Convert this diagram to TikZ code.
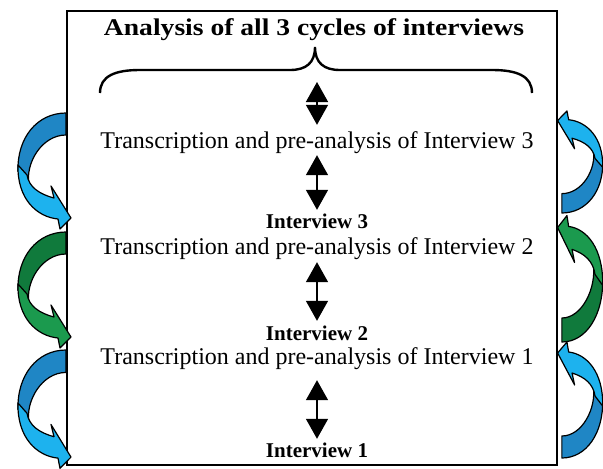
\documentclass[tikz,border=0pt]{standalone}
\usepackage{fontspec}
\setmainfont{Liberation Serif}
\usetikzlibrary{arrows.meta}
\definecolor{bluedk}{HTML}{1F86C5}
\definecolor{bluelt}{HTML}{1DB2EE}
\definecolor{greendk}{HTML}{107A3C}
\definecolor{greenlt}{HTML}{1B9A4E}
\newcommand\curvarr[2]{%
  \filldraw[fill=#1, draw=black, line width=1.2pt, line join=round]
    (-1,0) .. controls (-30,0) and (-50,25) .. (-49,58) -- (-38,72)
    .. controls (-42,50) and (-25,22) .. (-1,22) -- cycle;
  \filldraw[fill=#2, draw=black, line width=1.2pt, line join=round]
    (-49,52) .. controls (-50,86) and (-30,104) .. (-9,106) -- (-7,116) -- (4,105)
    -- (-16,73) -- (-13,85) .. controls (-28,81) and (-38,74) .. (-40,62) -- cycle;
}
\begin{document}
\begin{tikzpicture}[x=1pt,y=-1pt,
  txt/.style={font=\fontsize{24}{28}\selectfont, inner sep=0pt, text height=17pt, text depth=5pt, anchor=base},
  lbl/.style={font=\fontsize{21}{24}\selectfont\bfseries, inner sep=0pt, text height=15pt, text depth=0pt, anchor=base},
  ttl/.style={font=\fontsize{24}{28}\selectfont\bfseries, inner sep=0pt, anchor=base},
  dblarrow/.style={line width=1.5pt, {Triangle[length=20pt,width=22pt]}-{Triangle[length=20pt,width=22pt]}}]
\useasboundingbox (0,0) rectangle (603,469);
\fill[white] (0,0) rectangle (603,469);
% frame
\node[draw, line width=1.5pt, minimum width=490pt, minimum height=454pt, inner sep=0pt, outer sep=0pt] (frame) at (312,238) {};
% left curved arrows
\begin{scope}[shift={(67,113)}] \curvarr{bluedk}{bluelt} \end{scope}
\begin{scope}[shift={(67,232)}] \curvarr{greendk}{greenlt} \end{scope}
\begin{scope}[shift={(67,350)},yscale=1.02] \curvarr{bluedk}{bluelt} \end{scope}
% right curved arrows
\begin{scope}[shift={(561,213)},rotate=180,xscale=0.85,yscale=0.88] \curvarr{bluedk}{bluelt} \end{scope}
\begin{scope}[shift={(561,342)},rotate=180,xscale=0.85,yscale=1.09] \curvarr{greendk}{greenlt} \end{scope}
\begin{scope}[shift={(561,458)},rotate=180,xscale=0.85,yscale=1.0] \curvarr{bluedk}{bluelt} \end{scope}
% title
\node[ttl] (title) at (314,35) {\scalebox{1.15}[1]{Analysis of all 3 cycles of interviews}};
% brace
\draw[line width=2.4pt] (100,93) .. controls (100,76) and (115,70) .. (140,70) -- (290,70)
  .. controls (306,70) and (315,63) .. (315,47) .. controls (315,63) and (324,70) .. (340,70)
  -- (492,70) .. controls (517,70) and (532,76) .. (532,93);
\coordinate (bracetip) at (317,82);
% texts
\node[txt] (t3) at (317,148) {Transcription and pre-analysis of Interview 3};
\node[lbl] (i3) at (317,228) {Interview 3};
\node[txt] (t2) at (317,254) {Transcription and pre-analysis of Interview 2};
\node[lbl] (i2) at (317,340) {Interview 2};
\node[txt] (t1) at (317,364) {Transcription and pre-analysis of Interview 1};
\node[lbl] (i1) at (317,457) {Interview 1};
% double arrows
\draw[dblarrow, shorten >=6pt] (bracetip) -- (t3.north);
\draw[dblarrow, shorten <=2pt, shorten >=3pt] (t3.south) -- (i3.north);
\draw[dblarrow, shorten <=3pt, shorten >=4pt] (t2.south) -- (i2.north);
\draw[dblarrow, shorten <=11pt, shorten >=3pt] (t1.south) -- (i1.north);
\end{tikzpicture}
\end{document}
